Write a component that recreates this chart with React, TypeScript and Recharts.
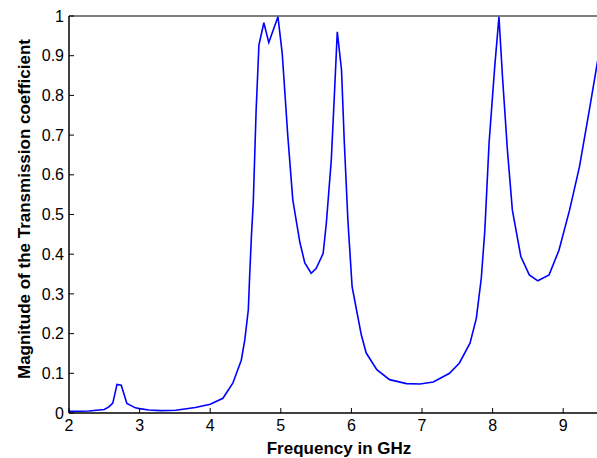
import { Label, Line, LineChart, XAxis, YAxis } from "recharts";

const freqGHz = [
  2.0, 2.28, 2.5, 2.57, 2.62, 2.68, 2.74, 2.82, 2.94, 3.0, 3.13, 3.3, 3.51, 3.79, 4.0, 4.18,
  4.32, 4.44, 4.49, 4.54, 4.56, 4.585, 4.61, 4.65, 4.69, 4.76, 4.83, 4.96, 5.02, 5.1, 5.17,
  5.27, 5.34, 5.43, 5.5, 5.6, 5.645, 5.715, 5.76, 5.8, 5.86, 5.9, 5.95, 6.01, 6.07, 6.14,
  6.21, 6.36, 6.54, 6.78, 6.97, 7.16, 7.39, 7.53, 7.68, 7.77, 7.84, 7.89, 7.95, 8.03, 8.09,
  8.14, 8.21, 8.28, 8.4, 8.52, 8.64, 8.8, 8.94, 9.09, 9.23, 9.37, 9.5
];

const magnitude = [
  0.004, 0.005, 0.009, 0.016, 0.025, 0.072, 0.07, 0.024, 0.013, 0.011, 0.0075, 0.006, 0.007,
  0.014, 0.022, 0.037, 0.075, 0.133, 0.184, 0.26, 0.35, 0.45, 0.53, 0.76, 0.927, 0.983, 0.933,
  0.998, 0.906, 0.696, 0.537, 0.43, 0.378, 0.352, 0.364, 0.402, 0.478, 0.637, 0.805, 0.96,
  0.864, 0.68, 0.486, 0.318, 0.262, 0.197, 0.151, 0.109, 0.084, 0.074, 0.073, 0.078, 0.1,
  0.126, 0.176, 0.239, 0.34, 0.46, 0.68, 0.872, 0.998, 0.847, 0.662, 0.511, 0.394, 0.348,
  0.333, 0.348, 0.41, 0.511, 0.62, 0.763, 0.9
];

const xTicks = [2, 3, 4, 5, 6, 7, 8, 9];
const yTicks = [0, 0.1, 0.2, 0.3, 0.4, 0.5, 0.6, 0.7, 0.8, 0.9, 1];

const data = freqGHz.map((f, i) => ({ f, t: magnitude[i] }));

const font = "'Liberation Sans', Arial, sans-serif";
const tickStyle = { fill: "#000", fontSize: 16, fontFamily: font };

export default function App() {
  return (
    <div
      style={{
        position: "fixed",
        left: 0,
        top: 0,
        width: 597,
        height: 458,
        overflow: "hidden",
        background: "#fff"
      }}
    >
      <LineChart data={data} height={458} margin={{ top: 15, right: 0.5, bottom: 0, left: 0 }} width={600}>
        <XAxis
          allowDataOverflow
          axisLine={{ stroke: "#000", strokeWidth: 1.5 }}
          dataKey="f"
          domain={[2, 9.5]}
          height={45}
          tick={tickStyle}
          tickLine={{ stroke: "#000" }}
          tickMargin={12}
          tickSize={-5}
          ticks={xTicks}
          type="number"
        >
          <Label
            content={() => (
              <text
                fill="#000"
                fontFamily={font}
                fontSize={17}
                fontWeight="bold"
                textAnchor="middle"
                x={339}
                y={454}
              >
                Frequency in GHz
              </text>
            )}
          />
        </XAxis>
        <XAxis
          allowDataOverflow
          axisLine={{ stroke: "#000" }}
          dataKey="f"
          domain={[2, 9.5]}
          height={1}
          orientation="top"
          tick={false}
          tickLine={{ stroke: "#000" }}
          tickSize={-5}
          ticks={xTicks}
          type="number"
          xAxisId="top"
        />
        <YAxis
          allowDataOverflow
          axisLine={{ stroke: "#000", strokeWidth: 1.5 }}
          domain={[0, 1]}
          tick={tickStyle}
          tickFormatter={(v: number) => String(v)}
          tickLine={{ stroke: "#000" }}
          tickMargin={10}
          tickSize={-5}
          ticks={yTicks}
          type="number"
          width={69}
        >
          <Label
            content={() => (
              <text
                fill="#000"
                fontFamily={font}
                fontSize={17}
                fontWeight="bold"
                textAnchor="middle"
                transform="rotate(-90 30 209)"
                x={30}
                y={209}
              >
                Magnitude of the Transmission coefficient
              </text>
            )}
          />
        </YAxis>
        <YAxis
          allowDataOverflow
          axisLine={{ stroke: "#000" }}
          domain={[0, 1]}
          orientation="right"
          tick={false}
          tickLine={{ stroke: "#000" }}
          tickSize={-5}
          ticks={yTicks}
          type="number"
          width={1}
          yAxisId="right"
        />
        <Line
          dataKey="t"
          dot={false}
          isAnimationActive={false}
          stroke="#0000ff"
          strokeWidth={1.6}
          type="linear"
        />
      </LineChart>
    </div>
  );
}
